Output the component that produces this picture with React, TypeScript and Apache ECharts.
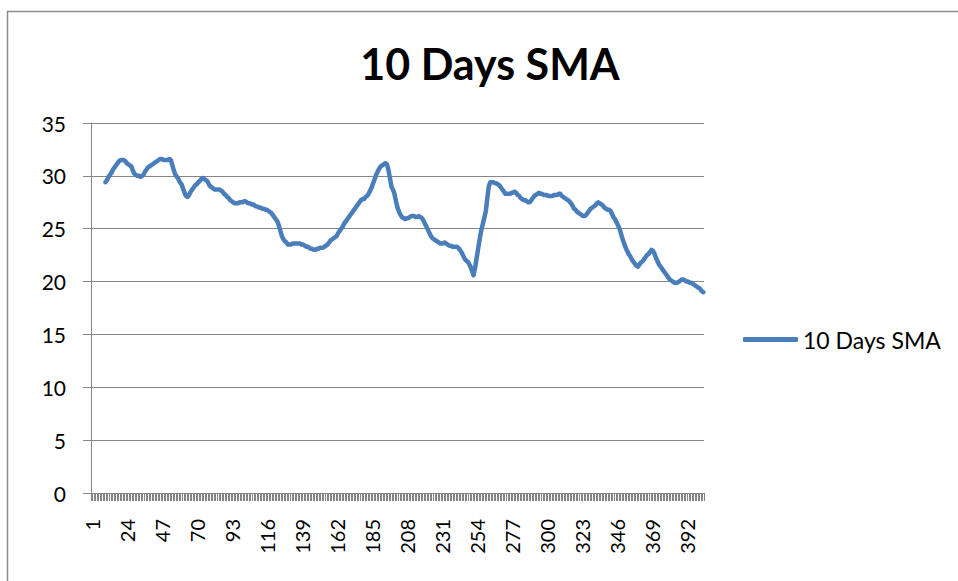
import React, { useEffect, useRef } from "react";
import * as echarts from "echarts";

const dayCount = 403;
const days: string[] = Array.from({ length: dayCount }, (_, i) => String(i + 1));
const leadingGap = 9; // first 9 days have no 10-day average

const sma10: number[] = [
  29.4, 29.6, 29.9, 30.1, 30.3, 30.6, 30.8, 31.0, 31.2, 31.4,
  31.5, 31.5, 31.5, 31.4, 31.2, 31.1, 31.0, 30.9, 30.5, 30.2,
  30.1, 30.0, 30.0, 29.9, 30.0, 30.1, 30.4, 30.6, 30.8, 30.9,
  31.0, 31.1, 31.2, 31.3, 31.4, 31.5, 31.6, 31.6, 31.5, 31.5,
  31.5, 31.5, 31.6, 31.5, 31.0, 30.5, 30.1, 29.9, 29.7, 29.4,
  29.2, 28.8, 28.4, 28.1, 28.0, 28.2, 28.5, 28.7, 28.9, 29.1,
  29.2, 29.4, 29.5, 29.7, 29.8, 29.7, 29.6, 29.5, 29.2, 29.0,
  28.9, 28.8, 28.7, 28.7, 28.7, 28.7, 28.6, 28.5, 28.3, 28.2,
  28.0, 27.9, 27.7, 27.6, 27.5, 27.4, 27.4, 27.4, 27.5, 27.5,
  27.5, 27.6, 27.6, 27.5, 27.4, 27.4, 27.3, 27.3, 27.2, 27.1,
  27.1, 27.0, 27.0, 26.9, 26.9, 26.8, 26.8, 26.7, 26.6, 26.5,
  26.3, 26.1, 25.9, 25.7, 25.3, 24.8, 24.3, 24.0, 23.8, 23.7,
  23.5, 23.5, 23.5, 23.6, 23.6, 23.6, 23.6, 23.6, 23.6, 23.5,
  23.5, 23.4, 23.3, 23.3, 23.2, 23.1, 23.1, 23.0, 23.0, 23.1,
  23.1, 23.2, 23.2, 23.2, 23.3, 23.4, 23.5, 23.7, 23.9, 24.0,
  24.1, 24.2, 24.3, 24.6, 24.8, 25.0, 25.2, 25.5, 25.7, 25.9,
  26.1, 26.3, 26.5, 26.7, 26.9, 27.1, 27.3, 27.5, 27.7, 27.8,
  27.8, 28.0, 28.1, 28.3, 28.6, 28.9, 29.3, 29.7, 30.1, 30.4,
  30.7, 30.9, 31.0, 31.1, 31.2, 31.1, 30.6, 29.8, 29.0, 28.7,
  28.3, 27.6, 27.0, 26.6, 26.3, 26.1, 26.0, 25.9, 26.0, 26.0,
  26.1, 26.2, 26.2, 26.2, 26.1, 26.1, 26.2, 26.1, 26.0, 25.8,
  25.5, 25.2, 24.9, 24.6, 24.3, 24.1, 24.0, 23.9, 23.8, 23.7,
  23.6, 23.6, 23.6, 23.7, 23.6, 23.5, 23.4, 23.4, 23.3, 23.3,
  23.3, 23.3, 23.2, 23.0, 22.8, 22.5, 22.2, 22.0, 21.9, 21.7,
  21.4, 21.0, 20.6, 21.3, 22.2, 23.1, 24.0, 24.8, 25.4, 26.0,
  26.6, 27.8, 29.0, 29.4, 29.4, 29.4, 29.3, 29.3, 29.2, 29.1,
  28.9, 28.7, 28.5, 28.3, 28.3, 28.3, 28.3, 28.4, 28.4, 28.5,
  28.4, 28.2, 28.1, 27.9, 27.8, 27.7, 27.7, 27.6, 27.5, 27.5,
  27.7, 27.9, 28.1, 28.2, 28.3, 28.4, 28.3, 28.3, 28.2, 28.2,
  28.2, 28.1, 28.1, 28.1, 28.1, 28.2, 28.2, 28.2, 28.3, 28.3,
  28.1, 28.0, 27.9, 27.8, 27.7, 27.6, 27.4, 27.2, 26.9, 26.8,
  26.6, 26.5, 26.4, 26.3, 26.2, 26.2, 26.3, 26.5, 26.7, 26.9,
  27.0, 27.1, 27.2, 27.4, 27.5, 27.4, 27.3, 27.2, 27.0, 26.9,
  26.8, 26.8, 26.7, 26.4, 26.1, 25.9, 25.6, 25.3, 25.0, 24.5,
  24.0, 23.6, 23.2, 22.9, 22.6, 22.4, 22.1, 21.9, 21.7, 21.5,
  21.4, 21.6, 21.8, 21.9, 22.1, 22.3, 22.5, 22.6, 22.8, 23.0,
  22.9, 22.6, 22.2, 21.9, 21.6, 21.4, 21.2, 21.0, 20.8, 20.6,
  20.4, 20.2, 20.1, 20.0, 19.9, 19.9, 19.9, 20.0, 20.1, 20.2,
  20.2, 20.1, 20.0, 20.0, 19.9, 19.9, 19.8, 19.7, 19.6, 19.5,
  19.4, 19.3, 19.1, 19.0,
];

const seriesName = "10 Days SMA";
const titleText = "10 Days SMA";

export default function App() {
  const ref = useRef<HTMLDivElement>(null);

  useEffect(() => {
    if (!ref.current) return;
    const chart = echarts.init(ref.current, null, { renderer: "svg" });
    const data: (number | null)[] = [
      ...new Array(leadingGap).fill(null),
      ...sma10,
    ];
    const font = "Lato, 'Noto Sans', sans-serif";
    const gray = "#868686";
    const blue = "#4a7ebb";
    chart.setOption({
      animation: false,
      backgroundColor: "#ffffff",
      title: {
        text: titleText,
        left: 485,
        top: 37,
        textAlign: "center",
        textStyle: {
          fontFamily: font,
          fontWeight: "bold",
          fontSize: 43,
          color: "#000000",
        },
      },
      legend: {
        left: 738,
        top: 323,
        icon: "roundRect",
        itemWidth: 55,
        itemHeight: 5,
        itemGap: 8,
        itemStyle: { color: blue, borderWidth: 0 },
        textStyle: { fontFamily: font, fontSize: 23, color: "#000000" },
        data: [seriesName],
      },
      grid: { left: 91, right: 254, top: 123, bottom: 88 },
      xAxis: {
        type: "category",
        data: days,
        boundaryGap: true,
        axisLine: { lineStyle: { color: gray, width: 1 } },
        axisTick: {
          show: true,
          interval: 0,
          length: 8,
          lineStyle: { color: gray, width: 1 },
        },
        axisLabel: {
          interval: 22,
          rotate: 90,
          margin: 26,
          fontFamily: font,
          fontSize: 20,
          color: "#000000",
        },
        splitLine: { show: false },
      },
      yAxis: {
        type: "value",
        min: 0,
        max: 35,
        interval: 5,
        axisLine: { show: true, lineStyle: { color: gray, width: 1 } },
        axisTick: { show: true, length: 8, lineStyle: { color: gray } },
        axisLabel: {
          margin: 25,
          fontFamily: font,
          fontSize: 21,
          color: "#000000",
        },
        splitLine: { show: true, lineStyle: { color: gray, width: 1 } },
      },
      graphic: [
        {
          type: "rect",
          left: 5,
          top: 9,
          shape: { x: 0, y: 0, width: 1200, height: 1200 },
          style: { fill: "none", stroke: "#8c8c8c", lineWidth: 1.5 },
          silent: true,
          z: 100,
        },
      ],
      series: [
        {
          name: seriesName,
          type: "line",
          data,
          symbol: "none",
          showSymbol: false,
          connectNulls: false,
          lineStyle: { color: blue, width: 4.5, join: "round", cap: "round" },
          itemStyle: { color: blue },
        },
      ],
    });
    return () => chart.dispose();
  }, []);

  return (
    <div
      ref={ref}
      style={{ position: "fixed", left: 0, top: 0, width: 958, height: 581, background: "#fff" }}
    />
  );
}
